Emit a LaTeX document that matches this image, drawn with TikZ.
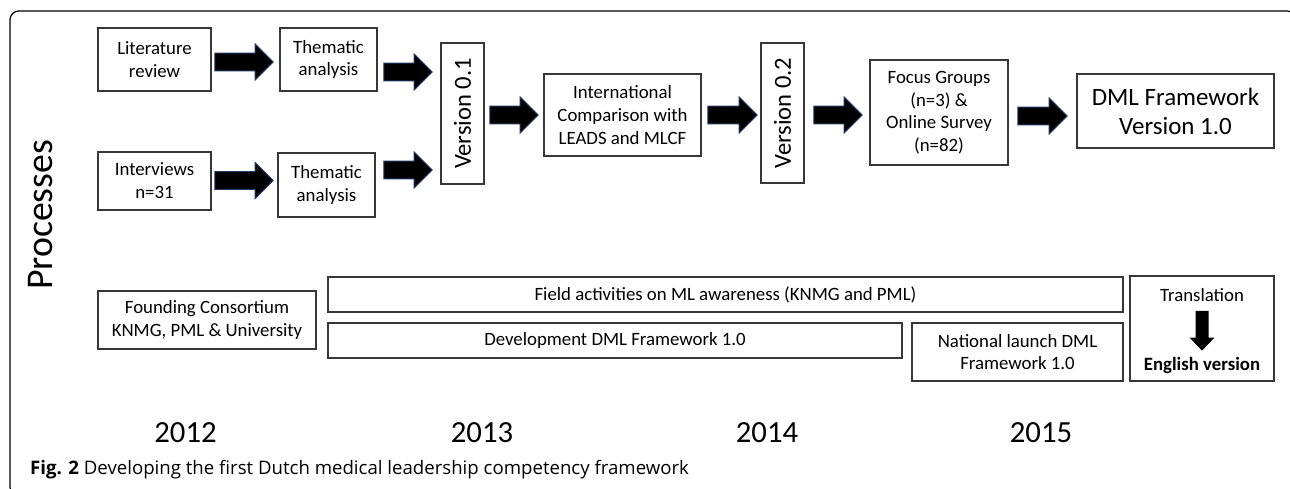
\documentclass[tikz,border=0pt]{standalone}
\usepackage{fontspec}
\setmainfont{Carlito}
\newfontfamily\capfont{Open Sans}
\usetikzlibrary{calc}

\definecolor{arrowedge}{RGB}{31,56,100}
\definecolor{boxline}{RGB}{55,55,55}

% horizontal block arrow: start point, end point (only x of the end is used)
\newcommand{\barrow}[2]{%
  \filldraw[blockarrow] let \p1=#1, \p2=#2 in
    (\x1,\y1+5.1pt) -- (\x2-10.2pt,\y1+5.1pt) -- (\x2-10.2pt,\y1+10.2pt) -- (\x2,\y1)
    -- (\x2-10.2pt,\y1-10.2pt) -- (\x2-10.2pt,\y1-5.1pt) -- (\x1,\y1-5.1pt) -- cycle;}
% downward block arrow
\newcommand{\dbarrow}[2]{%
  \fill let \p1=#1, \p2=#2 in
    (\x1-3.7pt,\y1) -- (\x1-3.7pt,\y2+7.4pt) -- (\x1-7.1pt,\y2+7.4pt) -- (\x1,\y2)
    -- (\x1+7.1pt,\y2+7.4pt) -- (\x1+3.7pt,\y2+7.4pt) -- (\x1+3.7pt,\y1) -- cycle;}

\tikzset{
  box/.style={draw=boxline, line width=1pt, inner sep=0pt, align=center,
    font=\fontsize{10.7}{13}\selectfont},
  boxsize/.style 2 args={minimum width=#1*0.02cm, minimum height=#2*0.02cm},
  blockarrow/.style={fill=black, draw=arrowedge, line width=0.6pt},
  year/.style={font=\fontsize{17.5}{20}\selectfont},
}

\begin{document}
\begin{tikzpicture}[x=0.02cm, y=-0.02cm]
\useasboundingbox (0,0) rectangle (1290,489);
\clip (0,0) rectangle (1290,489);
\draw[line width=0.7pt, rounded corners=5pt] (10,11) rectangle (1296,496);

\node[rotate=90, font=\fontsize{21.5}{24}\selectfont] (proc) at (40.5,215) {Processes};

% process row
\node[box, boxsize={113}{63}] (lit) at (154.5,59.5) {Literature\\review};
\node[box, boxsize={97}{63}] (them1) at (328.5,59.5) {Thematic\\analysis};
\node[box, boxsize={113}{58}] (inter) at (154.5,181) {Interviews\\n=31};
\node[box, boxsize={97}{64}] (them2) at (326.5,185) {Thematic\\analysis};
\node[box, boxsize={43}{141}] (v01) at (462.5,113.5) {\rotatebox{90}{\fontsize{14}{17}\selectfont Version 0.1}};
\node[box, boxsize={157}{82}] (intl) at (622.5,115) {International\\Comparison with\\LEADS and MLCF};
\node[box, boxsize={43}{140}] (v02) at (782.5,113) {\rotatebox{90}{\fontsize{14}{17}\selectfont Version 0.2}};
\node[box, boxsize={138}{105}, font=\fontsize{10.7}{12.8}\selectfont] (focus) at (939,112.5) {Focus Groups\\(n=3) \&\\Online Survey\\(n=82)};
\node[box, boxsize={197}{74}, font=\fontsize{14.2}{16.5}\selectfont] (dml) at (1175.5,111) {DML Framework\\Version 1.0};

\barrow{($(lit.east)+(3,2.5)$)}{($(them1.west)+(-6,0)$)}
\barrow{($(inter.east)+(3,-0.5)$)}{($(them2.west)+(-4,0)$)}
\barrow{($(them1.east)+(6,12.5)$)}{($(v01.west)+(-8,0)$)}
\barrow{($(them2.east)+(8,-15)$)}{($(v01.west)+(-8,0)$)}
\barrow{($(v01.east)+(5,1.5)$)}{($(intl.west)+(-5,0)$)}
\barrow{($(intl.east)+(6,0)$)}{($(v02.west)+(-3,0)$)}
\barrow{($(v02.east)+(9,2)$)}{($(focus.west)+(-7,0)$)}
\barrow{($(focus.east)+(9,3.5)$)}{($(dml.west)+(-9,0)$)}

% timeline row
\node[box, boxsize={218}{58}] (found) at (207,320) {Founding Consortium\\KNMG, PML \& University};
\node[box, boxsize={795}{35}] (field) at (725.5,294.5) {Field activities on ML awareness (KNMG and PML)};
\node[box, boxsize={574}{35}] (dev) at (615,340.5) {Development DML Framework 1.0};
\node[box, boxsize={211}{58}] (natl) at (1017.5,352) {National launch DML\\Framework 1.0};
\node[box, boxsize={144}{105}] (trans) at (1202,328.5) {};
\node[font=\fontsize{10.7}{13}\selectfont] (trtop) at (1202,295) {Translation};
\node[font=\fontsize{10.7}{13}\selectfont\bfseries] (treng) at (1202,365) {English version};
\dbarrow{($(trtop.south)+(0,3)$)}{($(treng.north)+(0,0)$)}

\foreach \yr/\xp in {2012/185.5, 2013/482, 2014/767, 2015/1041}
  \node[year] (y\yr) at (\xp,433) {\yr};

\node[anchor=west, font=\capfont\fontsize{10.6}{12}\selectfont] (cap) at (24,470)
  {\textbf{Fig. 2} Developing the first Dutch medical leadership competency framework};
\end{tikzpicture}
\end{document}
